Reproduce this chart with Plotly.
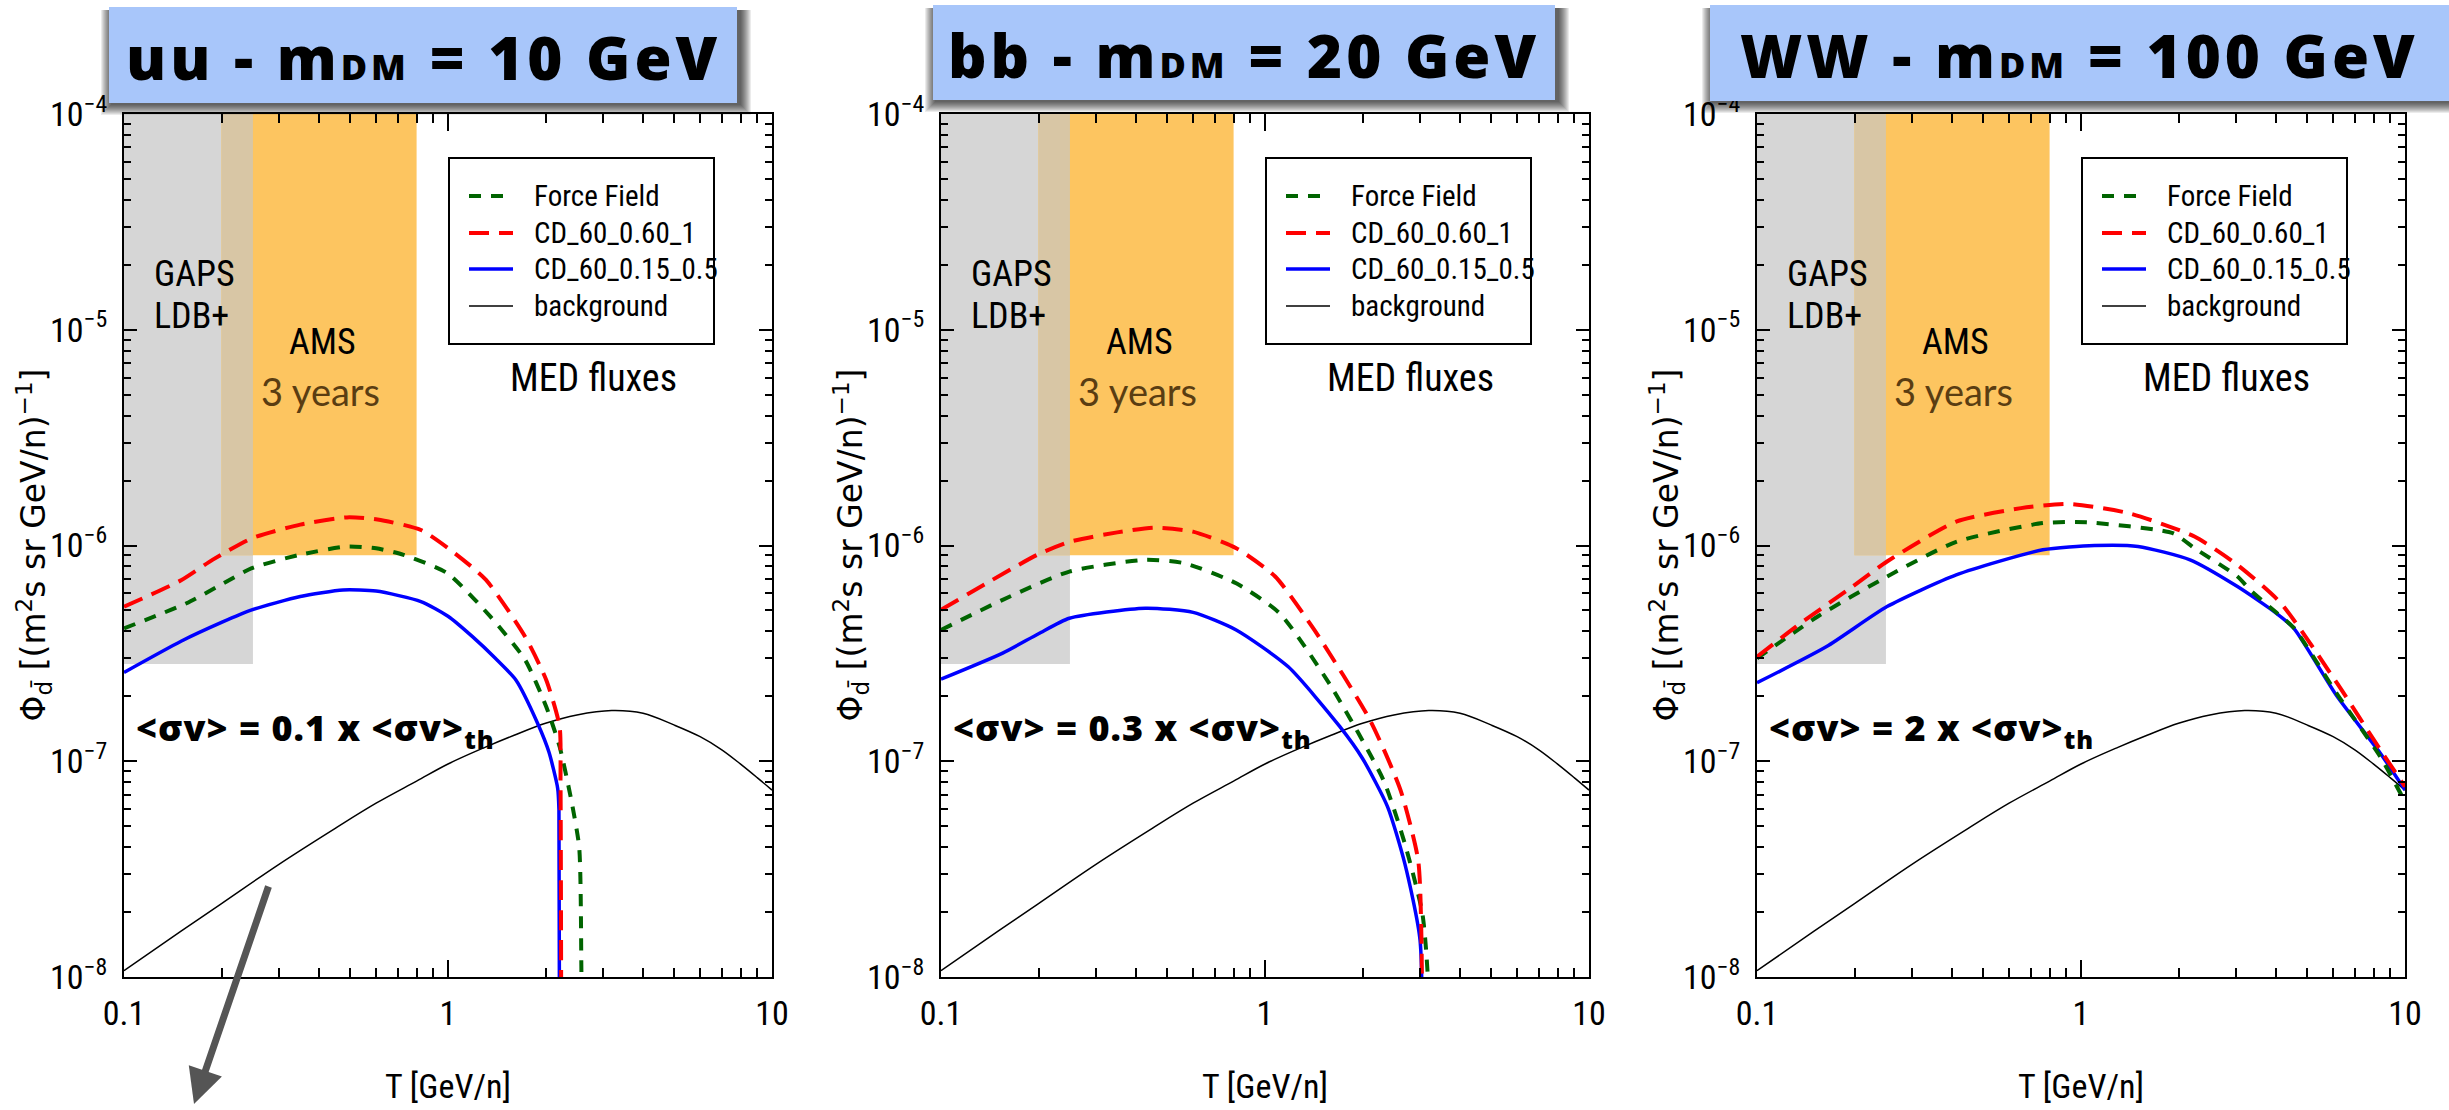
import plotly.graph_objects as go

# ---------------- data ----------------
X_TICKS = [0.1, 1, 10]
X_TICK_TEXT = ["0.1", "1", "10"]
Y_TICKS = [1e-8, 1e-7, 1e-6, 1e-5, 1e-4]
Y_TICK_TEXT = ["10<sup>\u22128</sup>", "10<sup>\u22127</sup>", "10<sup>\u22126</sup>",
               "10<sup>\u22125</sup>", "10<sup>\u22124</sup>"]

CHANNELS = ["uu", "bb", "WW"]
MASSES_GEV = [10, 20, 100]
SIGMA_FACTORS = ["0.1", "0.3", "2"]

# experiment sensitivity bands (T range, flux range)
GAPS_T = [0.1, 0.25]
GAPS_FLUX = [2.82e-7, 1e-4]
AMS_T = [0.2, 0.8]
AMS_FLUX = [9.0e-7, 1e-4]

# secondary antideuteron background (same in all panels)
BG_T = [0.1, 0.15, 0.2, 0.3, 0.45, 0.6, 0.8, 1.0, 1.3, 1.6, 2.0, 2.5, 3.2, 4.0,
        5.0, 6.0, 7.0, 8.0, 9.0, 10.0]
BG_FLUX = [1.07e-8, 1.63e-8, 2.19e-8, 3.32e-8, 4.9e-8, 6.39e-8, 8.09e-8, 9.71e-8,
           1.16e-7, 1.32e-7, 1.5e-7, 1.64e-7, 1.72e-7, 1.67e-7, 1.47e-7, 1.3e-7,
           1.13e-7, 9.7e-8, 8.4e-8, 7.35e-8]

# uu, m_DM = 10 GeV
UU_FF_T = [0.1, 0.156, 0.2, 0.248, 0.348, 0.488, 0.6, 0.729, 0.995, 1.35, 1.73, 2.01,
           2.21, 2.39, 2.54, 2.58, 2.6]
UU_FF = [4.13e-7, 5.4e-7, 6.6e-7, 7.85e-7, 9.05e-7, 9.9e-7, 9.7e-7, 9.05e-7, 7.44e-7,
         4.69e-7, 2.95e-7, 1.79e-7, 1.17e-7, 6.85e-8, 4.0e-8, 1.1e-8, 1e-9]
UU_CD1_T = [0.1, 0.15, 0.188, 0.248, 0.35, 0.488, 0.606, 0.825, 1.05, 1.31, 1.73,
            2.01, 2.21, 2.225, 2.24]
UU_CD1 = [5.2e-7, 6.9e-7, 8.6e-7, 1.08e-6, 1.25e-6, 1.35e-6, 1.32e-6, 1.18e-6, 9.2e-7,
          6.93e-7, 3.78e-7, 2.38e-7, 1.45e-7, 8.0e-8, 1e-9]
UU_CD2_T = [0.1, 0.15, 0.2, 0.248, 0.35, 0.474, 0.6, 0.825, 1.0, 1.19, 1.4, 1.62,
            1.89, 2.05, 2.18, 2.2, 2.215]
UU_CD2 = [2.58e-7, 3.6e-7, 4.4e-7, 5.03e-7, 5.8e-7, 6.22e-7, 6.15e-7, 5.5e-7, 4.7e-7,
          3.78e-7, 3.0e-7, 2.38e-7, 1.5e-7, 1.1e-7, 7.5e-8, 6.0e-8, 1e-9]

# bb, m_DM = 20 GeV
BB_FF_T = [0.1, 0.155, 0.249, 0.427, 0.563, 0.815, 1.11, 1.6, 2.32, 2.7, 3.06, 3.18, 3.2]
BB_FF = [4.06e-7, 5.6e-7, 7.57e-7, 8.58e-7, 8.28e-7, 6.68e-7, 4.85e-7, 2.22e-7,
         8.18e-8, 4.16e-8, 1.97e-8, 1.0e-8, 1e-9]
BB_CD1_T = [0.1, 0.198, 0.249, 0.35, 0.454, 0.599, 0.815, 1.075, 1.42, 2.11, 2.62,
            2.97, 3.04, 3.06]
BB_CD1 = [5.03e-7, 9.05e-7, 1.04e-6, 1.15e-6, 1.21e-6, 1.16e-6, 9.72e-7, 7.18e-7,
          4.06e-7, 1.55e-7, 7.35e-8, 3.48e-8, 1.5e-8, 1e-9]
BB_CD2_T = [0.1, 0.155, 0.2, 0.249, 0.427, 0.6, 0.815, 1.18, 1.7, 2.0, 2.39, 2.7,
            3.01, 3.04]
BB_CD2 = [2.4e-7, 3.17e-7, 3.9e-7, 4.6e-7, 5.12e-7, 4.9e-7, 4.06e-7, 2.74e-7, 1.45e-7,
          1.03e-7, 6.15e-8, 3.36e-8, 1.48e-8, 1e-9]

# WW, m_DM = 100 GeV
WW_FF_T = [0.1, 0.154, 0.252, 0.412, 0.762, 1.04, 1.92, 2.24, 3.04, 3.33, 4.0, 4.54,
           6.17, 8.39, 10.0]
WW_FF = [3.0e-7, 4.69e-7, 7.18e-7, 1.04e-6, 1.27e-6, 1.28e-6, 1.14e-6, 9.72e-7,
         7.18e-7, 6.22e-7, 4.9e-7, 4.15e-7, 2.05e-7, 1.05e-7, 6.48e-8]
WW_CD1_T = [0.1, 0.132, 0.197, 0.252, 0.412, 0.653, 0.916, 1.41, 2.24, 3.04, 4.14,
            6.17, 8.39, 10.0]
WW_CD1 = [3.05e-7, 4.21e-7, 6.45e-7, 8.43e-7, 1.29e-6, 1.49e-6, 1.56e-6, 1.41e-6,
          1.1e-6, 8.13e-7, 5.4e-7, 2.3e-7, 1.13e-7, 7.62e-8]
WW_CD2_T = [0.1, 0.164, 0.252, 0.412, 0.762, 1.1, 1.5, 2.17, 3.04, 4.01, 4.54, 6.17,
            8.39, 10.0]
WW_CD2 = [2.31e-7, 3.4e-7, 5.21e-7, 7.31e-7, 9.55e-7, 1.0e-6, 9.9e-7, 8.58e-7,
          6.45e-7, 4.85e-7, 4.13e-7, 2.0e-7, 1.09e-7, 7.35e-8]

PANEL_CURVES = [
    ((UU_FF_T, UU_FF), (UU_CD1_T, UU_CD1), (UU_CD2_T, UU_CD2)),
    ((BB_FF_T, BB_FF), (BB_CD1_T, BB_CD1), (BB_CD2_T, BB_CD2)),
    ((WW_FF_T, WW_FF), (WW_CD1_T, WW_CD1), (WW_CD2_T, WW_CD2)),
]

LEGEND_NAMES = ["Force Field", "CD_60_0.60_1", "CD_60_0.15_0.5", "background"]

# ---------------- styling ----------------
W, H = 2449, 1110
LEFT = [124, 941, 1757]
PW = 648
TOP, BOTTOM = 114, 977
PH = BOTTOM - TOP

NARROW = "Roboto Condensed, Roboto, sans-serif"
WIDE = "DejaVu Sans, Liberation Sans, sans-serif"
HUMAN = "Lato, Open Sans, sans-serif"
HEAVY = "Open Sans, Lato, sans-serif"

GREEN, RED, BLUE = "#006400", "#ff0000", "#0000ff"
GREEN_DASH, RED_DASH = "12px,10px", "20px,10px"
GREY_FILL, ORANGE_FILL, MIX_FILL = "#d6d6d6", "#fdc560", "#d8c6a5"
BOX_BLUE = "#a8c6fa"


def fx(p):
    return p / W


def fy(p):
    return 1 - p / H


def dx(rel):
    return rel / PW


def dy(p):
    return (BOTTOM - p) / PH


def band(t, f):
    return [t[0], t[1], t[1], t[0], t[0]], [f[0], f[0], f[1], f[1], f[0]]


fig = go.Figure()
shapes, annotations = [], []

for i in range(3):
    sfx = "" if i == 0 else str(i + 1)
    xa, ya = "x" + sfx, "y" + sfx

    # sensitivity bands
    ov_t = [max(GAPS_T[0], AMS_T[0]), min(GAPS_T[1], AMS_T[1])]
    ov_f = [max(GAPS_FLUX[0], AMS_FLUX[0]), min(GAPS_FLUX[1], AMS_FLUX[1])]
    for (t, f), col in [((GAPS_T, GAPS_FLUX), GREY_FILL), ((AMS_T, AMS_FLUX), ORANGE_FILL),
                        ((ov_t, ov_f), MIX_FILL)]:
        bx, by = band(t, f)
        fig.add_trace(go.Scatter(x=bx, y=by, mode="lines", fill="toself", fillcolor=col,
                                 line=dict(width=0), hoverinfo="skip", showlegend=False,
                                 xaxis=xa, yaxis=ya))

    ff, cd1, cd2 = PANEL_CURVES[i]
    fig.add_trace(go.Scatter(x=BG_T, y=BG_FLUX, mode="lines", name=LEGEND_NAMES[3],
                             line=dict(color="black", width=1.5, shape="spline",
                                       smoothing=1.0),
                             showlegend=False, xaxis=xa, yaxis=ya))
    fig.add_trace(go.Scatter(x=cd2[0], y=cd2[1], mode="lines", name=LEGEND_NAMES[2],
                             line=dict(color=BLUE, width=3.5, shape="spline", smoothing=0.6),
                             showlegend=False, xaxis=xa, yaxis=ya))
    fig.add_trace(go.Scatter(x=ff[0], y=ff[1], mode="lines", name=LEGEND_NAMES[0],
                             line=dict(color=GREEN, width=4, dash=GREEN_DASH,
                                       shape="spline", smoothing=0.6),
                             showlegend=False, xaxis=xa, yaxis=ya))
    fig.add_trace(go.Scatter(x=cd1[0], y=cd1[1], mode="lines", name=LEGEND_NAMES[1],
                             line=dict(color=RED, width=4, dash=RED_DASH,
                                       shape="spline", smoothing=0.6),
                             showlegend=False, xaxis=xa, yaxis=ya))

    common = dict(type="log", showgrid=False, zeroline=False, showline=True,
                  linecolor="black", linewidth=2, mirror="allticks", ticks="inside",
                  tickcolor="black", tickwidth=2,
                  tickfont=dict(family=NARROW, size=34, color="black"))
    fig.update_layout(**{
        "xaxis" + sfx: dict(domain=[fx(LEFT[i]), fx(LEFT[i] + PW)], range=[-1, 1],
                            anchor=ya, tickmode="array", tickvals=X_TICKS,
                            ticktext=X_TICK_TEXT, ticklen=17, ticklabelstandoff=5,
                            minor=dict(ticks="inside", ticklen=9, dtick="D1",
                                       tickwidth=1.5, tickcolor="black"),
                            **common),
        "yaxis" + sfx: dict(domain=[fy(BOTTOM), fy(TOP)], range=[-8, -4], anchor=xa,
                            tickmode="array", tickvals=Y_TICKS, ticktext=Y_TICK_TEXT,
                            ticklen=13, ticklabelstandoff=8,
                            minor=dict(ticks="inside", ticklen=7, dtick="D1",
                                       tickwidth=1.5, tickcolor="black"),
                            **common),
    })

    xd, yd = xa + " domain", ya + " domain"

    # axis titles
    annotations.append(dict(xref=xd, yref="paper", x=0.5, y=fy(1086),
                            text="T [GeV/n]", showarrow=False,
                            xanchor="center", yanchor="middle",
                            font=dict(family=NARROW, size=34, color="black")))
    annotations.append(dict(xref=xd, yref=yd, x=dx(-90), y=0.5, textangle=-90,
                            text="\u03a6<sub>d\u0304</sub> [(m<sup>2</sup>s sr GeV/n)<sup>\u22121</sup>]",
                            showarrow=False, xanchor="center", yanchor="middle",
                            font=dict(family=WIDE, size=33, color="black")))

    # band labels
    for txt, rx, py, fam, size, col in [
        ("GAPS", 28, 274, NARROW, 36, "black"),
        ("LDB+", 28, 316, NARROW, 36, "black"),
        ("AMS", 163, 342, NARROW, 36, "black"),
        ("3 years", 135, 391, HUMAN, 38, "#5a3d12"),
        ("MED fluxes", 384, 378, NARROW, 38, "black"),
    ]:
        annotations.append(dict(xref=xd, yref=yd, x=dx(rx), y=dy(py), text=txt,
                                xanchor="left", yanchor="middle", showarrow=False,
                                font=dict(family=fam, size=size, color=col)))

    # cross-section label
    annotations.append(dict(
        xref=xd, yref=yd, x=dx(10), y=dy(729),
        text="<span style='letter-spacing:1px'>&lt;\u03c3v&gt; = " + SIGMA_FACTORS[i]
             + " x &lt;\u03c3v&gt;<sub>th</sub></span>",
        xanchor="left", yanchor="middle", showarrow=False,
        font=dict(family=HEAVY, size=36, color="black", weight=800)))

    # legend box, samples and labels
    shapes.append(dict(type="rect", xref=xd, yref=yd, x0=dx(325), x1=dx(590),
                       y0=dy(158), y1=dy(344), line=dict(color="black", width=2),
                       fillcolor="white", layer="above"))
    entry_y = [196, 233, 269, 306]
    styles = [dict(color=GREEN, width=4, dash=GREEN_DASH),
              dict(color=RED, width=4, dash=RED_DASH),
              dict(color=BLUE, width=3.5),
              dict(color="black", width=1.5)]
    for name, ey, st in zip(LEGEND_NAMES, entry_y, styles):
        shapes.append(dict(type="line", xref=xd, yref=yd, x0=dx(345), x1=dx(389),
                           y0=dy(ey), y1=dy(ey), line=st, layer="above"))
        annotations.append(dict(xref=xd, yref=yd, x=dx(408), y=dy(ey), text=name,
                                xanchor="left", yanchor="middle", showarrow=False,
                                font=dict(family=NARROW, size=29, color="black")))

# title boxes with soft drop shadows
BOXES = [(109, 737, 7, 103), (933, 1555, 5, 100), (1710, 2455, 5, 101)]
for (x0, x1, y0, y1), ch, m in zip(BOXES, CHANNELS, MASSES_GEV):
    for k in range(1, 12):
        shapes.append(dict(type="rect", xref="paper", yref="paper",
                           x0=fx(x0 - k + 3), x1=fx(x1 + k + 3),
                           y0=fy(y1 + k + 1), y1=fy(y0 + 3),
                           line=dict(width=0), fillcolor="rgba(0,0,0,0.08)",
                           layer="above"))
    shapes.append(dict(type="rect", xref="paper", yref="paper",
                       x0=fx(x0), x1=fx(x1), y0=fy(y1), y1=fy(y0),
                       line=dict(width=0), fillcolor=BOX_BLUE, layer="above"))
    annotations.append(dict(
        xref="paper", yref="paper", x=fx((x0 + min(x1, W)) / 2), y=fy((y0 + y1) / 2 + 2),
        text="<span style='letter-spacing:4px'>" + ch
             + " - m<span style='font-size:36px'>DM</span> = " + str(m) + " GeV</span>",
        showarrow=False, xanchor="center", yanchor="middle",
        font=dict(family=HEAVY, size=60, color="black", weight=800)))

# hand-drawn pointer arrow in the first panel
annotations.append(dict(xref="paper", yref="paper", x=fx(194), y=fy(1104), ax=75, ay=-219,
                        text="", showarrow=True, arrowhead=2, arrowsize=1,
                        arrowwidth=7, arrowcolor="#555555"))

fig.update_layout(width=W, height=H,
                  margin=dict(l=0, r=0, t=0, b=0, autoexpand=False),
                  paper_bgcolor="white", plot_bgcolor="white", showlegend=False,
                  shapes=shapes, annotations=annotations)

fig.write_html("out.html")
